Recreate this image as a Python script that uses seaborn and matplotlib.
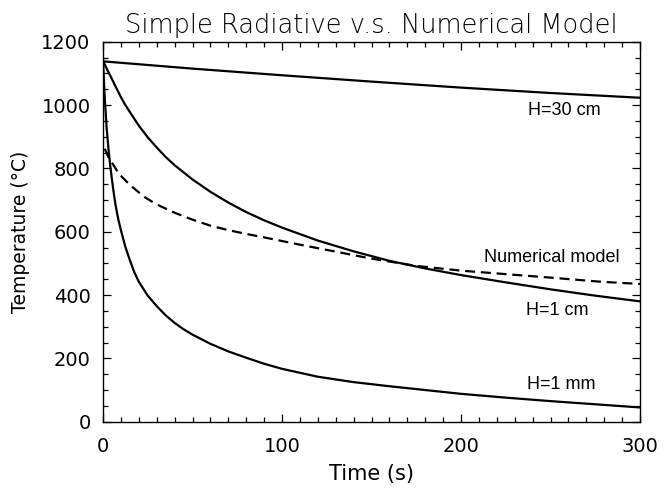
import matplotlib
matplotlib.use("Agg")
import matplotlib.pyplot as plt
from matplotlib.ticker import MultipleLocator
import seaborn as sns
import pandas as pd

# ---- data ----
t_30cm = [0, 50, 100, 150, 200, 250, 300]
T_30cm = [1138, 1115, 1094, 1074, 1055, 1038, 1023]

t_1cm = [0, 2.5, 5, 7.5, 10, 12.5, 15, 20, 25, 30, 35, 40, 50, 60, 70, 80, 90,
         100, 120, 140, 160, 180, 200, 225, 250, 275, 300]
T_1cm = [1140, 1110, 1082, 1053, 1025, 1000, 978, 935, 898, 866, 836, 810,
         765, 726, 692, 662, 636, 613, 572, 538, 508, 484, 463, 440, 418,
         398, 380]

t_1mm = [0, 1, 2, 3, 4, 5, 6, 7, 8.5, 10, 12.5, 15, 17.5, 20, 25, 30, 35, 40,
         45, 50, 60, 70, 80, 90, 100, 120, 140, 160, 180, 200, 225, 250, 275,
         300]
T_1mm = [1140, 1020, 930, 865, 810, 765, 722, 685, 640, 605, 552, 510, 472,
         442, 398, 365, 336, 312, 292, 275, 246, 222, 202, 183, 167, 142, 125,
         112, 100, 88, 76, 65, 55, 45]

t_num = [1, 3, 5, 9, 15, 23, 30, 40, 50, 60, 70, 80, 90, 110, 130, 150, 175,
         200, 225, 250, 278, 300]
T_num = [862, 836, 818, 782, 748, 710, 686, 660, 638, 619, 605, 593, 582,
         559, 537, 515, 492, 477, 466, 455, 442, 435]

labels = ["H=30 cm", "Numerical model", "H=1 cm", "H=1 mm"]
label_pos = [(257.5, 984), (250.8, 520), (253.6, 352), (255.9, 116)]

title = "Simple Radiative v.s. Numerical Model"
xlabel = "Time (s)"
ylabel = "Temperature (\u00b0C)"
xticks = [0, 100, 200, 300]
yticks = [0, 200, 400, 600, 800, 1000, 1200]

# ---- plotting ----
sns.set_theme(style="ticks")
plt.rcParams["font.family"] = ["DejaVu Sans"]
plt.rcParams["text.color"] = "black"
plt.rcParams["axes.labelcolor"] = "black"
plt.rcParams["xtick.color"] = "black"
plt.rcParams["ytick.color"] = "black"

fig = plt.figure(figsize=(6.7, 4.88), dpi=100)
ax = fig.add_axes([103 / 670, 1 - 421.7 / 488, (640 - 103) / 670, (421.7 - 41.7) / 488])

lw = 1.6
for tt, TT in [(t_30cm, T_30cm), (t_1cm, T_1cm), (t_1mm, T_1mm)]:
    df = pd.DataFrame({"t": tt, "T": TT})
    sns.lineplot(data=df, x="t", y="T", ax=ax, color="black", lw=lw,
                 estimator=None)
df_num = pd.DataFrame({"t": t_num, "T": T_num})
sns.lineplot(data=df_num, x="t", y="T", ax=ax, color="black", lw=lw,
             estimator=None, linestyle=(0, (4.5, 2.6)))

ax.set_xlim(0, 300)
ax.set_ylim(0, 1200)
ax.set_xticks(xticks)
ax.set_yticks(yticks)
ax.xaxis.set_minor_locator(MultipleLocator(10))
ax.yaxis.set_minor_locator(MultipleLocator(50))
ax.tick_params(which="both", direction="in", top=True, right=True,
               width=0.9, color="black", labelcolor="black")
ax.tick_params(which="major", length=6)
ax.tick_params(which="minor", length=3.5)
ax.tick_params(axis="x", which="major", labelsize=14, pad=11)
ax.tick_params(axis="y", which="major", labelsize=14, pad=9)
for sp in ax.spines.values():
    sp.set_visible(True)
    sp.set_linewidth(1.0)
    sp.set_color("black")

ax.set_xlabel(xlabel, fontsize=15, labelpad=6, color="black")
ax.set_ylabel(ylabel, fontsize=13.5, labelpad=8, color="black")

for lab, (px, py) in zip(labels, label_pos):
    ax.text(px, py, lab, ha="center", va="center", fontsize=13,
            color="black", family=["Liberation Sans", "DejaVu Sans"])

fig.text((103 + 640) / 2 / 670, 1 - 33 / 488, title, ha="center",
         va="baseline", fontsize=18.5, fontweight="light", color="black")

fig.savefig("out.png", dpi=100, facecolor="white")
